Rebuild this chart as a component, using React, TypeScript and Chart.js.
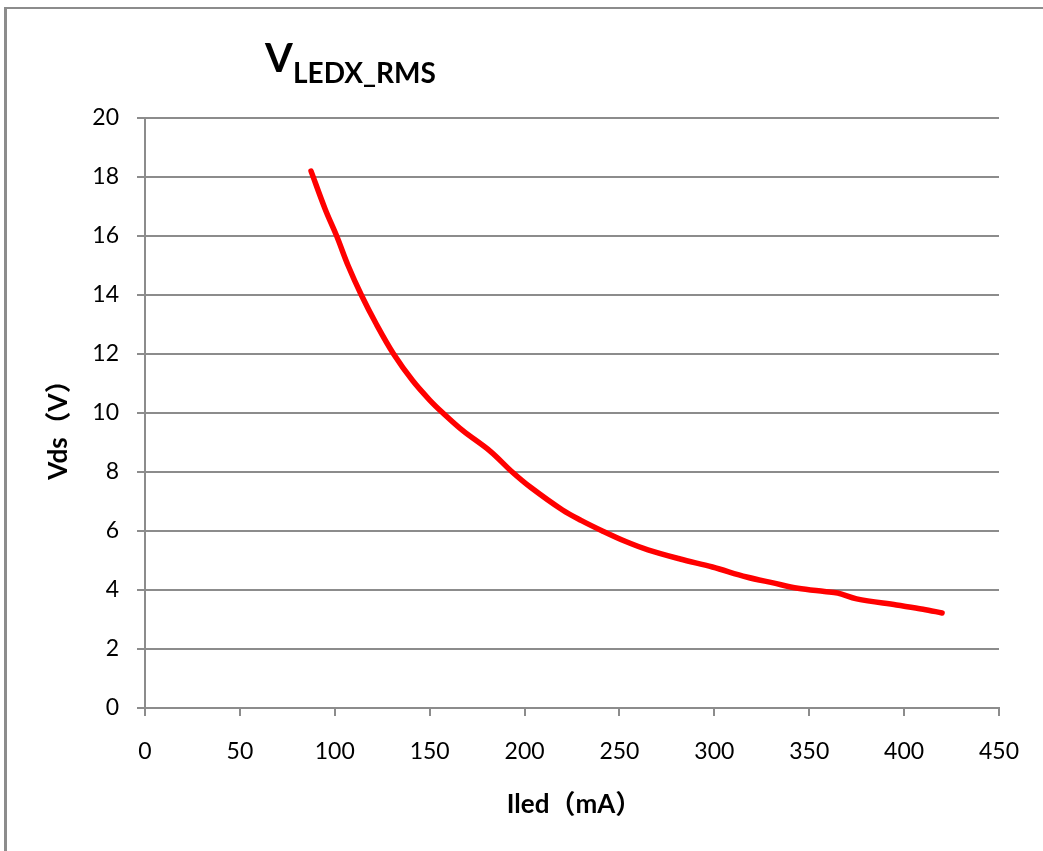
import React, { useEffect, useRef } from "react";
import { Chart, registerables } from "chart.js";

Chart.register(...registerables);

const iledMA = [87.5, 95, 101, 107, 114, 122, 131, 141, 150, 157, 167.5, 182, 193.5, 203, 220, 230, 241, 253, 265, 282, 299, 317, 331, 344, 358, 365, 375, 396, 410, 420];
const vdsV = [18.2, 16.9, 16.0, 15.0, 14.0, 13.0, 12.0, 11.1, 10.44, 10.0, 9.4, 8.7, 8.0, 7.49, 6.71, 6.35, 6.0, 5.65, 5.36, 5.05, 4.78, 4.44, 4.24, 4.06, 3.95, 3.9, 3.7, 3.49, 3.35, 3.22];
const titleMain = "V";
const titleSub = "LEDX_RMS";
const xTitle = "Iled（mA）";
const yTitle = "Vds（V）";

const FONT = "Lato, 'Noto Sans CJK SC', sans-serif";
const GRID = "#8c8c8c";

const titlePlugin = {
  id: "customTitles",
  afterDraw(chart: any) {
    const ctx = chart.ctx;
    const area = chart.chartArea;
    ctx.save();
    ctx.fillStyle = "#000";
    ctx.textBaseline = "alphabetic";
    ctx.textAlign = "left";
    ctx.font = `bold 40px ${FONT}`;
    ctx.fillText(titleMain, 265, 72);
    ctx.font = `bold 28px ${FONT}`;
    ctx.fillText(titleSub, 293, 83);

    ctx.font = `bold 26px ${FONT}`;
    ctx.textAlign = "center";
    ctx.fillText(xTitle, (area.left + area.right) / 2 + 2, 813);

    ctx.translate(66.5, (area.top + area.bottom) / 2 + 10.5);
    ctx.rotate(-Math.PI / 2);
    ctx.fillText(yTitle, 0, 0);
    ctx.restore();
  },
};

export default function App() {
  const ref = useRef<HTMLCanvasElement>(null);
  useEffect(() => {
    if (!ref.current) return;
    const data = iledMA.map((x, i) => ({ x, y: vdsV[i] }));
    const chart = new Chart(ref.current, {
      type: "line",
      data: {
        datasets: [
          {
            data,
            borderColor: "#ff0000",
            borderWidth: 5.5,
            borderCapStyle: "round",
            borderJoinStyle: "round",
            pointRadius: 0,
            tension: 0.35,
            fill: false,
          },
        ],
      },
      options: {
        responsive: false,
        animation: false,
        layout: { padding: { top: 118, right: 44, left: 0, bottom: 0 } },
        plugins: { legend: { display: false }, tooltip: { enabled: false }, title: { display: false } },
        scales: {
          x: {
            type: "linear",
            min: 0,
            max: 450,
            afterFit: (s: any) => { s.height = 143; },
            ticks: { stepSize: 50, color: "#000", font: { family: FONT, size: 23 }, padding: 22, maxRotation: 0 },
            grid: { drawOnChartArea: false, drawTicks: true, tickLength: 8, color: GRID, lineWidth: 2 },
            border: { display: true, color: GRID, width: 2 },
            title: { display: false },
          },
          y: {
            min: 0,
            max: 20,
            afterFit: (s: any) => { s.width = 145; },
            ticks: { stepSize: 2, color: "#000", font: { family: FONT, size: 23 }, padding: 18 },
            grid: { drawOnChartArea: true, drawTicks: true, tickLength: 8, color: GRID, lineWidth: 2 },
            border: { display: true, color: GRID, width: 2 },
            title: { display: false },
          },
        },
      },
      plugins: [titlePlugin],
    } as any);
    return () => chart.destroy();
  }, []);

  return (
    <div style={{ position: "fixed", left: 0, top: 0, width: 1043, height: 851, overflow: "hidden", background: "#fff" }}>
      <div
        style={{
          position: "absolute",
          left: 4,
          top: 7,
          width: 1100,
          height: 900,
          borderLeft: "3px solid #8c8c8c",
          borderTop: "2px solid #8c8c8c",
          boxSizing: "border-box",
        }}
      />
      <canvas ref={ref} width={1043} height={851} style={{ position: "absolute", left: 0, top: 0, display: "block" }} />
    </div>
  );
}
